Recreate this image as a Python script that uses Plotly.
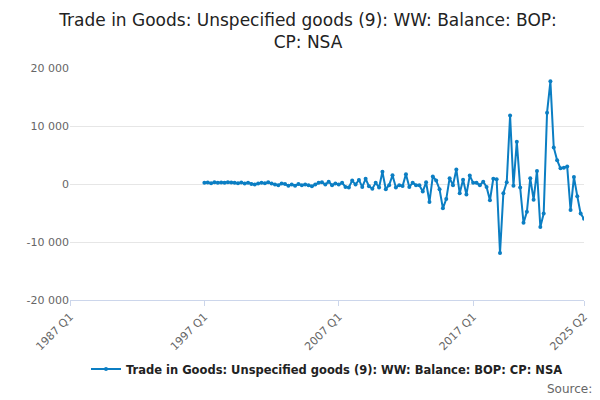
import plotly.graph_objects as go

def qlabels(y0, q0, n):
    out = []
    y, q = y0, q0
    for _ in range(n):
        out.append(f"{y} Q{q}")
        q += 1
        if q > 4:
            q = 1; y += 1
    return out

values = [
 # 1997-2001
 200, 250, 150, 300, 200, 250, 200, 300, 250, 200, 150, 250, 100, 200, 0, -100, 100, 200, 150, 300,
 # 2002-2006
 100, -100, -200, 100, 0, -300, -100, -300, 0, -200, -100, -200, -400, -100, 200, 300, -100, 400, -200, 100,
 # 2007-2011Q3
 -100, 200, -500, -600, 600, -100, 700, -500, 900, -400, -800, 200, -600, 2100, -900, -200, 1500, -600, -200,
 # 2011Q4 - 2025Q2
 -350, 1700, -500, 200, -200, -200, -1300, 300, -3100, 1300, 600, -900, -4200, -2600, 1000, -200, 2500, -1600, 750, -1800,
 1450, 200, 200, -200, 400, -500, -2800, 900, 800, -11900, -1600, 300, 11800, -300, 7300, -600, -6700, -4800, 1000, -2700,
 2250, -7400, -5100, 12300, 17700, 6300, 4100, 2700, 2800, 3000, -4500, 1200, -2100, -5100, -6000,
]
quarters = qlabels(1997, 1, len(values))
all_q = qlabels(1987, 1, 154)
tick_labels = ["1987 Q1", "1997 Q1", "2007 Q1", "2017 Q1", "2025 Q2"]
name = "Trade in Goods: Unspecified goods (9): WW: Balance: BOP: CP: NSA"

fig = go.Figure()
fig.add_trace(go.Scatter(x=quarters, y=values, mode="lines+markers", name=name,
    line=dict(color="#0b7ec3", width=2), marker=dict(size=4, color="#0b7ec3")))
fig.update_layout(
    width=600, height=400, paper_bgcolor="white", plot_bgcolor="white",
    font=dict(family="DejaVu Sans", color="#333"),
    title=dict(text="Trade in Goods: Unspecified goods (9): WW: Balance: BOP:<br>CP: NSA",
               x=0.5, xanchor="center", y=0.955, yanchor="middle", font=dict(size=17, color="#222")),
    margin=dict(l=62, r=24, t=60, b=108, autoexpand=False),
    showlegend=True,
    legend=dict(orientation="h", x=0.5, xanchor="center", y=-0.235, yanchor="top",
                font=dict(size=11.5, color="#222", weight="bold")),
    xaxis=dict(type="category", categoryorder="array", categoryarray=all_q, range=[0, 153],
               tickmode="array", tickvals=tick_labels, ticktext=tick_labels, tickangle=-45,
               showgrid=False, showline=True, linecolor="#ccd6eb", ticks="outside", tickcolor="#ccd6eb",
               tickfont=dict(size=11, color="#666")),
    yaxis=dict(range=[-20000, 20000], tickvals=[-20000, -10000, 0, 10000, 20000],
               ticktext=["-20 000", "-10 000", "0", "10 000", "20 000"], gridcolor="#e6e6e6",
               zeroline=False, tickfont=dict(size=11, color="#666")),
)
fig.add_annotation(text="Source:", xref="paper", yref="paper", x=1.02, y=-0.345, xanchor="right",
                   yanchor="top", showarrow=False, font=dict(size=12, color="#666"))
fig.write_html("out.html")
